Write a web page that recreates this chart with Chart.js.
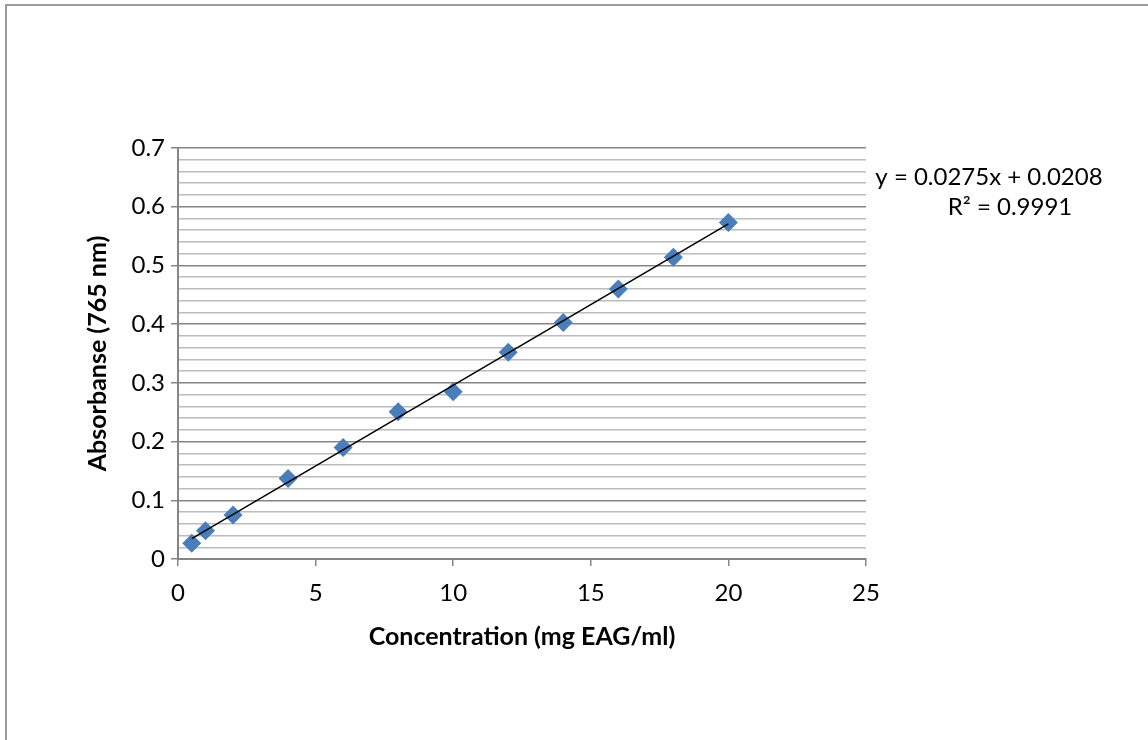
<!DOCTYPE html>
<html>
<head>
<meta charset="utf-8">
<script src="https://cdn.jsdelivr.net/npm/chart.js@4"></script>
<style>
  html, body { margin: 0; padding: 0; background: #fff; }
  #wrap { width: 1148px; height: 740px; position: relative; }
</style>
</head>
<body>
<div id="wrap"><canvas id="chart" width="1148" height="740"></canvas></div>
<script>
// concentration (mg EAG/ml) and measured absorbance at 765 nm
const concentrations = [0.5, 1, 2, 4, 6, 8, 10, 12, 14, 16, 18, 20];
const absorbance = [0.027, 0.048, 0.075, 0.137, 0.190, 0.251, 0.285, 0.352, 0.403, 0.460, 0.514, 0.573];

// linear fit reported on the chart
const slope = 0.0275;
const intercept = 0.0208;
const rSquared = 0.9991;

const xTicks = [0, 5, 10, 15, 20, 25];
const yMajorStep = 0.1;
const yMinorStep = 0.02;

const FONT = "Lato, 'Open Sans', sans-serif";
const MAJOR = "#868686";
const MINOR = "#bcbcbc";

function isMajor(v) {
  const k = v / yMajorStep;
  return Math.abs(k - Math.round(k)) < 1e-6;
}

const points = concentrations.map((c, i) => ({ x: c, y: absorbance[i] }));
const xFirst = concentrations[0];
const xLast = concentrations[concentrations.length - 1];
const fitLine = [
  { x: xFirst, y: slope * xFirst + intercept },
  { x: xLast, y: slope * xLast + intercept }
];

const frame = {
  id: "frame",
  beforeDraw(chart) {
    const ctx = chart.ctx;
    ctx.save();
    ctx.fillStyle = "#fff";
    ctx.fillRect(0, 0, chart.width, chart.height);
    ctx.strokeStyle = "#9a9a9a";
    ctx.lineWidth = 2;
    ctx.beginPath();
    ctx.moveTo(6, chart.height + 5);
    ctx.lineTo(6, 5);
    ctx.lineTo(chart.width + 5, 5);
    ctx.stroke();
    ctx.restore();
  },
  afterDraw(chart) {
    // equation and R² of the fit, to the right of the plot
    const ctx = chart.ctx;
    ctx.save();
    ctx.fillStyle = "#000";
    ctx.font = "24px " + FONT;
    ctx.textAlign = "center";
    ctx.textBaseline = "middle";
    ctx.fillText("y = " + slope + "x + " + intercept, 989, 177);
    ctx.fillText("R\u00b2 = " + rSquared, 1010, 207);
    ctx.restore();
  }
};

new Chart(document.getElementById("chart"), {
  type: "scatter",
  data: {
    datasets: [
      {
        label: "fit",
        data: fitLine,
        showLine: true,
        borderColor: "#000",
        borderWidth: 1.5,
        pointRadius: 0,
        fill: false
      },
      {
        label: "Absorbance",
        data: points,
        pointStyle: "rectRot",
        pointRadius: 9.5,
        pointHoverRadius: 9.5,
        backgroundColor: "#4a7ebb",
        borderColor: "#4a7ebb",
        borderWidth: 0
      }
    ]
  },
  plugins: [frame],
  options: {
    responsive: false,
    animation: false,
    devicePixelRatio: 1,
    layout: { padding: { left: 0, top: 148, right: 282, bottom: 81 } },
    plugins: { legend: { display: false }, tooltip: { enabled: false } },
    scales: {
      x: {
        type: "linear",
        min: 0,
        max: 25,
        afterBuildTicks: s => { s.ticks = xTicks.map(v => ({ value: v })); },
        afterFit: s => { s.height = 100; s.paddingLeft = 0; s.paddingRight = 0; },
        ticks: { color: "#000", font: { family: FONT, size: 24 }, padding: 13 },
        grid: { drawOnChartArea: false, color: MAJOR, lineWidth: 1.5, tickLength: 7 },
        border: { color: MAJOR, width: 2 },
        title: {
          display: true,
          text: "Concentration (mg EAG/ml)",
          color: "#000",
          font: { family: FONT, size: 25, weight: "bold" },
          padding: { top: 0, bottom: 7 }
        }
      },
      y: {
        type: "linear",
        min: 0,
        max: 0.7,
        afterFit: s => { s.width = 178; s.paddingTop = 0; s.paddingBottom = 0; },
        ticks: {
          stepSize: yMinorStep,
          maxTicksLimit: 100,
          autoSkip: false,
          color: "#000",
          font: { family: FONT, size: 24 },
          padding: 6,
          callback: v => isMajor(v) ? String(Math.round(v * 10) / 10) : ""
        },
        grid: {
          color: c => (c.tick && isMajor(c.tick.value)) ? MAJOR : MINOR,
          tickColor: c => (c.tick && isMajor(c.tick.value)) ? MAJOR : "rgba(0,0,0,0)",
          lineWidth: 1.5,
          tickLength: 7
        },
        border: { color: MAJOR, width: 2 },
        title: {
          display: true,
          text: "Absorbanse (765 nm)",
          color: "#000",
          font: { family: FONT, size: 25, weight: "bold" },
          padding: { top: 83, bottom: 0 }
        }
      }
    }
  }
});
</script>
</body>
</html>
